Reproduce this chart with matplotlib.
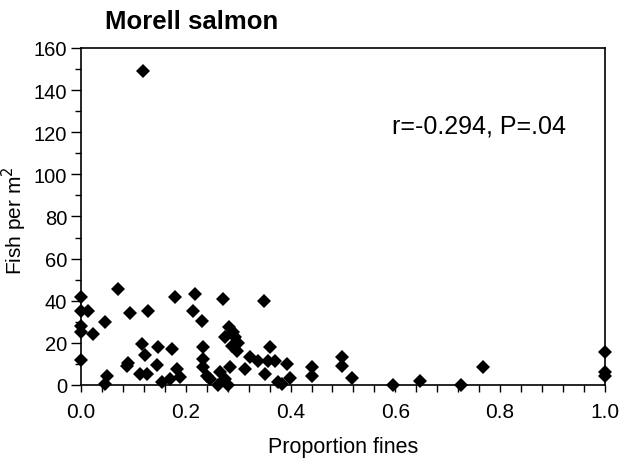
import numpy as np
import matplotlib.pyplot as plt

plt.rcParams['font.family'] = ['Liberation Sans', 'DejaVu Sans']

# proportion fines vs fish density
fines = [0.0, 0.071, 0.0, 0.013, 0.0, 0.0, 0.046, 0.023, 0.0, 0.094,
         0.128, 0.18, 0.116, 0.122, 0.147, 0.174, 0.088, 0.145, 0.113, 0.126,
         0.05, 0.046, 0.155, 0.17, 0.183, 0.118, 0.218, 0.271, 0.349, 0.214,
         0.231, 0.282, 0.275, 0.294, 0.288, 0.298, 0.233, 0.233, 0.233, 0.322,
         0.338, 0.361, 0.357, 0.313, 0.351, 0.189, 0.24, 0.246, 0.284, 0.275,
         0.261, 0.28, 0.376, 0.37, 0.393, 0.399, 0.383, 0.441, 0.441, 0.498,
         0.498, 0.517, 0.647, 0.725, 0.767, 1.0, 1.0, 1.0, 0.595, 0.09,
         0.29, 0.3, 0.265]
fish = [42, 45.6, 35, 35, 28, 25, 30, 24, 12, 34,
        35, 42, 19.5, 14, 18, 17, 9, 9.5, 5, 5,
        4.3, 0.5, 1.4, 3, 7.6, 149, 43, 41, 40, 35,
        30.5, 27.5, 23, 23, 18.5, 16, 18, 12.3, 8.5, 13.3,
        11.4, 18, 11.4, 7.6, 5.2, 3.8, 4.3, 2.8, 8.5, 2.8,
        0, 0, 1.4, 11.4, 10, 3.3, 0.5, 8.5, 4.3, 13.3,
        9, 3.3, 2, 0, 8.5, 15.7, 6, 4.3, 0, 10.5,
        25, 20, 6]

fig = plt.figure(figsize=(6.21, 4.60), dpi=100)
ax = fig.add_axes([0.1304, 0.1609, 0.8438, 0.7326])

ax.plot(fines, fish, 'D', color='black', markersize=6.8, markeredgewidth=0,
        clip_on=False)

ax.set_xlim(0, 1.0)
ax.set_ylim(0, 160)
ax.set_xticks(np.arange(0, 1.01, 0.2))
ax.set_xticklabels(['0.0', '0.2', '0.4', '0.6', '0.8', '1.0'])
ax.set_xticks(np.arange(0, 1.001, 0.04), minor=True)
ax.set_yticks(np.arange(0, 161, 20))
ax.set_yticks(np.arange(0, 161, 10), minor=True)

ax.tick_params(axis='x', which='both', direction='out', length=5, width=1,
               labelsize=15, pad=7)
ax.tick_params(axis='y', which='major', direction='out', length=7, width=1,
               labelsize=14.5, pad=3)
ax.tick_params(axis='y', which='minor', direction='out', length=4, width=1)
for s in ax.spines.values():
    s.set_linewidth(1.2)

ax.set_xlabel('Proportion fines', fontsize=15.5, labelpad=11)
ax.set_ylabel('Fish per m$^2$', fontsize=15)
ax.yaxis.set_label_coords(-0.1, 0.49)

ax.text(0.594, 0.769, 'r=-0.294, P=.04', transform=ax.transAxes,
        fontsize=18, va='center')
fig.text(0.169, 0.952, 'Morell salmon', fontsize=18.5, fontweight='bold',
         va='center')

fig.savefig('out.png', dpi=100)
